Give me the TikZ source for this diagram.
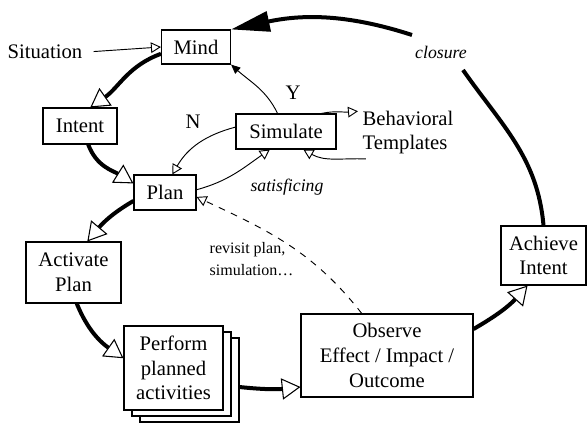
\documentclass[tikz,border=0pt]{standalone}
\usepackage{fontspec}
\setmainfont{Liberation Serif}
\usetikzlibrary{arrows.meta}

\begin{document}
\begin{tikzpicture}[x=0.75pt,y=0.75pt,
  every node/.style={font=\fontsize{15.5}{18.5}\selectfont},
  blk/.style={draw,line width=0.8pt,fill=white,align=center,inner sep=2pt},
  flow/.style={line width=3pt,-{Triangle[open,length=14pt,width=16pt,line width=0.8pt]}},
  link/.style={line width=0.7pt,-{Triangle[open,length=7.5pt,width=8pt]}},
  note/.style={font=\fontsize{13.3}{16}\selectfont\itshape}]
\useasboundingbox (0,0) rectangle (587,-424);

% boxes
\node[blk,minimum width=51.75pt,minimum height=25.5pt] (mind) at (196,-47) {Mind};
\node[blk,minimum width=55.5pt,minimum height=27pt] (intent) at (80,-126) {Intent};
\node[blk,minimum width=75pt,minimum height=26.25pt] (simul) at (286,-131.5) {Simulate};
\node[blk,minimum width=46.5pt,minimum height=26.25pt] (plan) at (165,-192.5) {Plan};
\node[blk,minimum width=71.25pt,minimum height=45.75pt] (activ) at (73.5,-272.5) {Activate\\Plan};
\foreach \k/\d in {3/16,2/8}
  \node[blk,minimum width=74.25pt,minimum height=63pt] (perform\k) at (173.5+\d,-368-0.75*\d) {};
\node[blk,minimum width=74.25pt,minimum height=63pt] (perform) at (173.5,-368) {Perform\\planned\\activities};
\node[blk,minimum width=129pt,minimum height=62.25pt] (observe) at (387,-355.5) {Observe\\Effect / Impact /\\Outcome};
\node[blk,minimum width=63.75pt,minimum height=44.25pt] (achieve) at (543.5,-255.5) {Achieve\\Intent};

% labels
\node (situation) at (45,-52) {Situation};
\node[anchor=west,align=left] (behav) at (358,-132.5) {Behavioral\\Templates};
\node[note] (closure) at (441,-52) {closure};
\node[note] (satis) at (287,-187) {satisficing};
\node (yes) at (293,-93) {Y};
\node (no) at (193,-122) {N};
\node[anchor=west,align=left,font=\fontsize{12}{16.5}\selectfont] (revisit) at (205,-259) {revisit plan,\\simulation\dots};

% main cycle
\draw[flow] (mind.191) to[out=200,in=35] (intent.61);
\draw[flow] (intent.-66) to[out=-70,in=148] (plan.164);
\draw[flow] (plan.195) to[out=210,in=50] (activ.66);
\draw[flow] (activ.-84) to[out=-68,in=145] (perform.169);
\draw[flow] (perform3.-8) to[bend right=6] (observe.200);
\draw[flow] (observe.17) to[out=30,in=228] (achieve.242);
\coordinate (gapA) at (463,-70);
\coordinate (gapB) at (412,-35);
\draw[line width=3pt] (achieve.north) to[out=95,in=-55] (gapA);
\draw[line width=3pt,-{Triangle[length=29pt,width=15pt]}] (gapB) to[out=162,in=12] (mind.north east);

% simulation loop
\draw[link,shorten <=5pt] (situation.east) -- (mind.west);
\draw[line width=0.7pt,-{Triangle[length=7pt,width=6pt]}] (simul.115) to[out=116,in=-42] (mind.south east);
\draw[link] (simul.175) to[out=195,in=60] (plan.68);
\draw[link] (plan.5) to[out=15,in=215] (simul.228);
\draw[link] (simul.27) to[out=12,in=185] (behav.157);
\draw[link] (behav.212) to[out=178,in=-30] (simul.-46);
\draw[link,dash pattern=on 5pt off 5pt] (observe.121) to[out=128,in=-25] (plan.-8);

\end{tikzpicture}
\end{document}
